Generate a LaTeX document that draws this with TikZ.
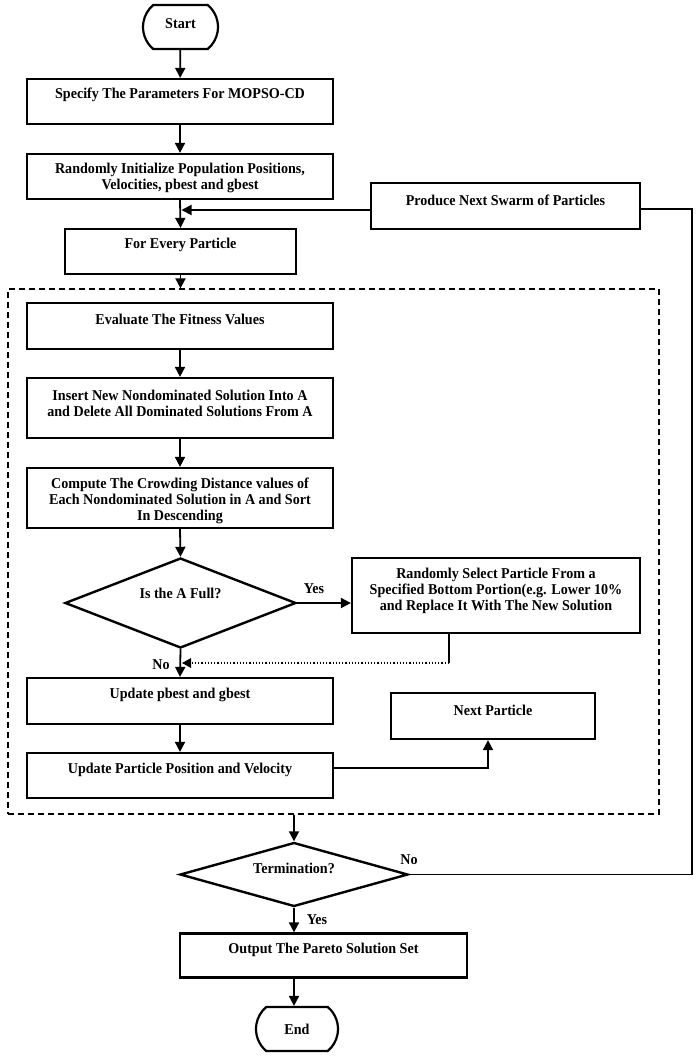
\documentclass[tikz,border=0pt]{standalone}
\usepackage{fontspec}
\setmainfont{Liberation Serif}[FakeStretch=0.94]
\usetikzlibrary{arrows.meta,shapes.geometric,shapes.misc,calc}
\begin{document}
\begin{tikzpicture}[x=1pt,y=-1pt,
  box/.style={draw,line width=2.2pt,rectangle,inner sep=0pt},
  term/.style={draw,line width=2.2pt,rounded rectangle,rounded rectangle arc length=100,inner sep=0pt},
  dia/.style={draw,line width=2.4pt,diamond,inner sep=0pt},
  txt/.style={font=\bfseries\fontsize{15}{16}\selectfont,align=center,inner sep=0pt},
  lbl/.style={font=\bfseries\fontsize{15}{16}\selectfont,inner sep=0pt},
  arr/.style={line width=1.8pt,-{Triangle[length=10pt,width=10pt]}},
  ln/.style={line width=1.6pt},
  dotarr/.style={line width=1.2pt,dotted,-{Triangle[length=9pt,width=9.5pt]}}]
\useasboundingbox (0,0) rectangle (698,1058);

% terminals
\node[term,minimum width=75pt,minimum height=44pt] (start) at (180.5,27) {};
\node[txt] (starttxt) at (180.5,24) {Start};
\node[term,minimum width=82pt,minimum height=44pt] (end) at (297,1029) {};
\node[txt] (endtxt) at (297,1029) {End};

% top boxes
\node[box,minimum width=306pt,minimum height=45pt] (spec) at (180,101.5) {};
\node[txt] (spectxt) at (180,95) {Specify The Parameters For MOPSO-CD};
\node[box,minimum width=306pt,minimum height=45pt] (rand) at (180,176.5) {};
\node[txt] (randtxt) at (180,178) {Randomly Initialize Population Positions,\\Velocities, pbest and gbest};
\node[box,minimum width=269pt,minimum height=46pt] (prod) at (505.5,206) {};
\node[txt] (prodtxt) at (505.5,200) {Produce Next Swarm of Particles};
\node[box,minimum width=231pt,minimum height=45pt] (every) at (180.5,251.5) {};
\node[txt] (everytxt) at (180.5,245) {For Every Particle};

% dashed loop region
\node[draw,line width=1.3pt,dash pattern=on 6pt off 4pt,minimum width=651pt,minimum height=525pt,inner sep=0pt] (loop) at (333.5,551.5) {};

\node[box,minimum width=306pt,minimum height=46pt] (eval) at (180,326) {};
\node[txt] (evaltxt) at (180,319) {Evaluate The Fitness Values};
\node[box,minimum width=306pt,minimum height=60pt] (ins) at (180,408) {};
\node[txt] (instxt) at (180,403) {Insert New Nondominated Solution Into A\\and Delete All Dominated Solutions From A};
\node[box,minimum width=306pt,minimum height=60pt] (comp) at (180,498) {};
\node[txt] (comptxt) at (180,501) {Compute The Crowding Distance values of\\Each Nondominated Solution in A and Sort\\In Descending};

\node[dia,minimum width=231pt,minimum height=90pt] (full) at (180.5,603) {};
\node[txt] (fulltxt) at (180.5,593) {Is the A Full?};
\node[box,minimum width=288pt,minimum height=75pt] (sel) at (496,595.5) {};
\node[txt] (seltxt) at (496,591) {Randomly Select Particle From a\\Specified Bottom Portion(e.g. Lower 10\%\\and Replace It With The New Solution};

\node[box,minimum width=306pt,minimum height=46pt] (upd) at (180,701) {};
\node[txt] (updtxt) at (180,695) {Update pbest and gbest};
\node[box,minimum width=306pt,minimum height=45pt] (pos) at (180,775.5) {};
\node[txt] (postxt) at (180,770) {Update Particle Position and Velocity};
\node[box,minimum width=204pt,minimum height=46pt] (next) at (493,716) {};
\node[txt] (nexttxt) at (493,710) {Next Particle};

\node[dia,minimum width=228pt,minimum height=64pt] (termi) at (294,874.5) {};
\node[txt] (termtxt) at (294,868) {Termination?};
\node[box,minimum width=287pt,minimum height=44pt] (out) at (323.5,955.5) {};
\node[txt] (outtxt) at (323.5,950) {Output The Pareto Solution Set};

% labels
\node[lbl] (yes1) at (314,589) {Yes};
\node[lbl] (no1) at (161,665) {No};
\node[lbl] (no2) at (409,860) {No};
\node[lbl] (yes2) at (317,920) {Yes};

% coordinates
\coordinate (prodin) at ($(prod.west)+(0,4)$);
\coordinate (prodout) at ($(prod.east)+(0,3)$);
\coordinate (rgt) at (692,0);
\coordinate (dotstart) at (449,0);
\coordinate (dotlevel) at (0,663);
\coordinate (poslevel) at (0,768);
\coordinate (nextx) at (488,0);

% connectors
\draw[arr] (start) -- (spec);
\draw[arr] (spec) -- (rand);
\draw[arr] (rand.south) -- (every.north);
\draw[arr] (prodin) -- ($(prodin -| rand.south)+(1.5,0)$);
\draw[arr] (every.south) -- (every.south |- loop.north);
\draw[arr] (eval) -- (ins);
\draw[arr] (ins) -- (comp);
\draw[arr] (comp.south) -- (full.north);
\draw[arr] (full.east) -- (full.east -| sel.west);
\draw[ln] (dotstart |- sel.south) -- (dotstart |- dotlevel);
\draw[dotarr] (dotstart |- dotlevel) -- ($(full.south |- dotlevel)+(1.5,0)$);
\draw[arr] (full.south) -- (upd.north);
\draw[arr] (upd) -- (pos);
\draw[arr] (pos.east |- poslevel) -- (nextx |- poslevel) -- (nextx |- next.south);
\draw[arr] (termi.north |- loop.south) -- (termi.north);
\draw[ln] (termi.east) -- (rgt |- termi.east) -- (rgt |- prodout) -- (prodout);
\draw[arr] (termi.south) -- (termi.south |- out.north);
\draw[arr] (termi.south |- out.south) -- (termi.south |- end.north);
\end{tikzpicture}
\end{document}
